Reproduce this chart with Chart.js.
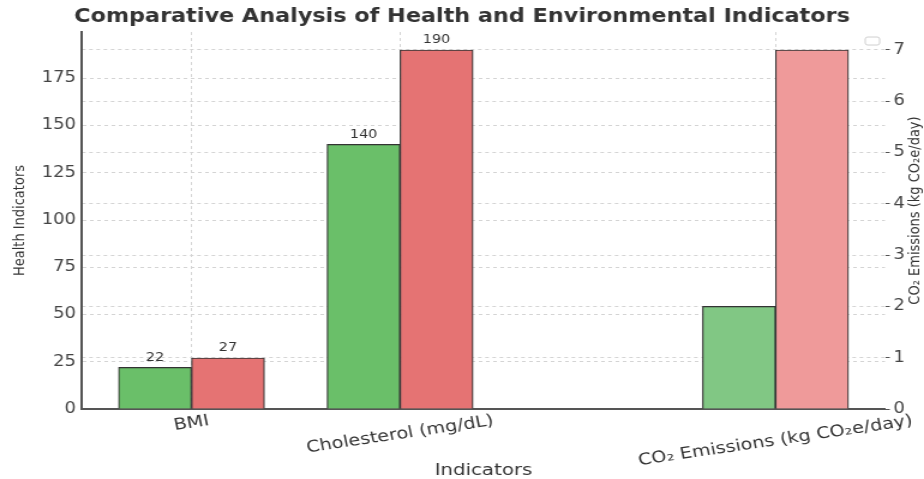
<!DOCTYPE html>
<html>
<head>
<meta charset="utf-8">
<script src="https://cdn.jsdelivr.net/npm/chart.js@4.4.1/dist/chart.umd.min.js"></script>
<style>
  html, body { margin: 0; padding: 0; background: #fff; overflow: hidden; }
  /* the reference is a horizontally stretched figure, so draw narrow and stretch */
  #wrap { position: relative; width: 770px; height: 479px; transform: scaleX(1.2); transform-origin: 0 0; }
</style>
</head>
<body>
<div id="wrap"><canvas id="chart"></canvas></div>
<script>
// Categories and where each group sits on the x axis
const categories = ["BMI", "Cholesterol (mg/dL)", "CO₂ Emissions (kg CO₂e/day)"];
const categoryPositions = [0, 1, 2.8];

// Health indicators (left axis) - BMI, Cholesterol
const healthGreen = [22, 140];
const healthRed = [27, 190];

// CO2 emissions (right axis)
const co2Green = [2];
const co2Red = [7];

// Tick labels
const leftTicks = [0, 25, 50, 75, 100, 125, 150, 175];
const rightTicks = [0, 1, 2, 3, 4, 5, 6, 7];

const BAR_W = 0.35;
const FONT = "'DejaVu Sans', sans-serif";

// put values at their group position, shifted left or right by half a bar
function toPoints(values, firstCat, shift) {
  return values.map((v, i) => ({ x: categoryPositions[firstCat + i] + shift, y: v }));
}

// labels over the health bars, rotated x labels, right axis title, empty legend box
const extras = {
  id: "extras",
  afterDatasetsDraw(chart) {
    const ctx = chart.ctx;
    ctx.save();
    ctx.font = "12px " + FONT;
    ctx.fillStyle = "#333";
    ctx.textAlign = "center";
    ctx.textBaseline = "bottom";
    [0, 1].forEach(di => {
      const meta = chart.getDatasetMeta(di);
      meta.data.forEach((bar, i) => {
        ctx.fillText(String(chart.data.datasets[di].data[i].y), bar.x, bar.y - 4);
      });
    });
    ctx.restore();
  },
  afterDraw(chart) {
    const ctx = chart.ctx;
    const xs = chart.scales.x;
    const y2 = chart.scales.y2;
    const area = chart.chartArea;

    // x category labels, rotated 10 degrees, centered on the tick
    ctx.save();
    ctx.font = "16px " + FONT;
    ctx.fillStyle = "#333";
    ctx.textAlign = "center";
    ctx.textBaseline = "middle";
    const ang = 10 * Math.PI / 180;
    categories.forEach((c, i) => {
      const x = xs.getPixelForValue(categoryPositions[i]);
      const w = ctx.measureText(c).width;
      const h = 14;
      const bh = w * Math.sin(ang) + h * Math.cos(ang);
      const cy = xs.top + 5 + bh / 2;
      ctx.save();
      ctx.translate(x, cy);
      ctx.rotate(-ang);
      ctx.fillText(c, 0, 0);
      ctx.restore();
    });
    ctx.restore();

    // right axis title reads bottom to top
    ctx.save();
    ctx.font = "13px " + FONT;
    ctx.fillStyle = "#333";
    ctx.textAlign = "center";
    ctx.textBaseline = "middle";
    ctx.translate(y2.right - 7, (area.top + area.bottom) / 2 - 10);
    ctx.rotate(-Math.PI / 2);
    ctx.fillText("CO₂ Emissions (kg CO₂e/day)", 0, 0);
    ctx.restore();

    // empty legend frame
    ctx.save();
    ctx.strokeStyle = "#cfcfcf";
    ctx.fillStyle = "rgba(255,255,255,0.8)";
    ctx.lineWidth = 1;
    ctx.beginPath();
    ctx.roundRect(area.right - 16.5, area.top + 5, 12, 8, 2);
    ctx.fill();
    ctx.stroke();
    ctx.restore();
  }
};

const gridStyle = { color: "#d4d4d4", lineWidth: 1 };

new Chart(document.getElementById("chart"), {
  type: "bar",
  data: {
    datasets: [
      { data: toPoints(healthGreen, 0, -BAR_W / 2), yAxisID: "y", backgroundColor: "#6abf69", borderColor: "#333", borderWidth: 1.2 },
      { data: toPoints(healthRed, 0, BAR_W / 2), yAxisID: "y", backgroundColor: "#e57373", borderColor: "#333", borderWidth: 1.2 },
      { data: toPoints(co2Green, 2, -BAR_W / 2), yAxisID: "y2", backgroundColor: "#81c784", borderColor: "#333", borderWidth: 1.2 },
      { data: toPoints(co2Red, 2, BAR_W / 2), yAxisID: "y2", backgroundColor: "#ef9a9a", borderColor: "#333", borderWidth: 1.2 }
    ]
  },
  options: {
    responsive: true,
    maintainAspectRatio: false,
    animation: false,
    grouped: false,
    barPercentage: 1,
    categoryPercentage: 1,
    layout: { padding: 0 },
    plugins: {
      legend: { display: false },
      tooltip: { enabled: false },
      title: {
        display: true,
        text: "Comparative Analysis of Health and Environmental Indicators",
        color: "#333",
        font: { family: FONT, size: 18.6, weight: "bold" },
        padding: { top: 6, bottom: 3.7 }
      }
    },
    scales: {
      x: {
        type: "linear",
        min: -0.525,
        max: 3.325,
        offset: false,
        afterBuildTicks: s => { s.ticks = categoryPositions.map(v => ({ value: v })); },
        afterFit: s => { s.height = 70; },
        ticks: { display: false },
        grid: { ...gridStyle, offset: false, drawTicks: false },
        border: { display: true, color: "#555", width: 2, dash: [3, 3] },
        title: {
          display: true,
          text: "Indicators",
          color: "#333",
          font: { family: FONT, size: 16.5 },
          padding: { top: 0, bottom: -2 }
        }
      },
      y: {
        position: "left",
        min: 0,
        max: 199.5,
        afterBuildTicks: s => { s.ticks = leftTicks.map(v => ({ value: v })); },
        afterFit: s => { s.width = 68.3; },
        ticks: { color: "#444", font: { family: FONT, size: 15 }, padding: 5 },
        grid: { ...gridStyle, drawTicks: false },
        border: { display: true, color: "#555", width: 2, dash: [3, 3] },
        title: {
          display: true,
          text: "Health Indicators",
          color: "#333",
          font: { family: FONT, size: 13 },
          padding: { top: 8.5, bottom: 0 }
        }
      },
      y2: {
        position: "right",
        min: 0,
        max: 7.35,
        afterBuildTicks: s => { s.ticks = rightTicks.map(v => ({ value: v })); },
        afterFit: s => { s.width = 32.5; },
        ticks: { color: "#444", font: { family: FONT, size: 15 }, padding: 3 },
        grid: { ...gridStyle, drawTicks: true, tickLength: 4, tickColor: "#555" },
        border: { display: false, dash: [3, 3] }
      }
    }
  },
  plugins: [extras]
});
</script>
</body>
</html>
